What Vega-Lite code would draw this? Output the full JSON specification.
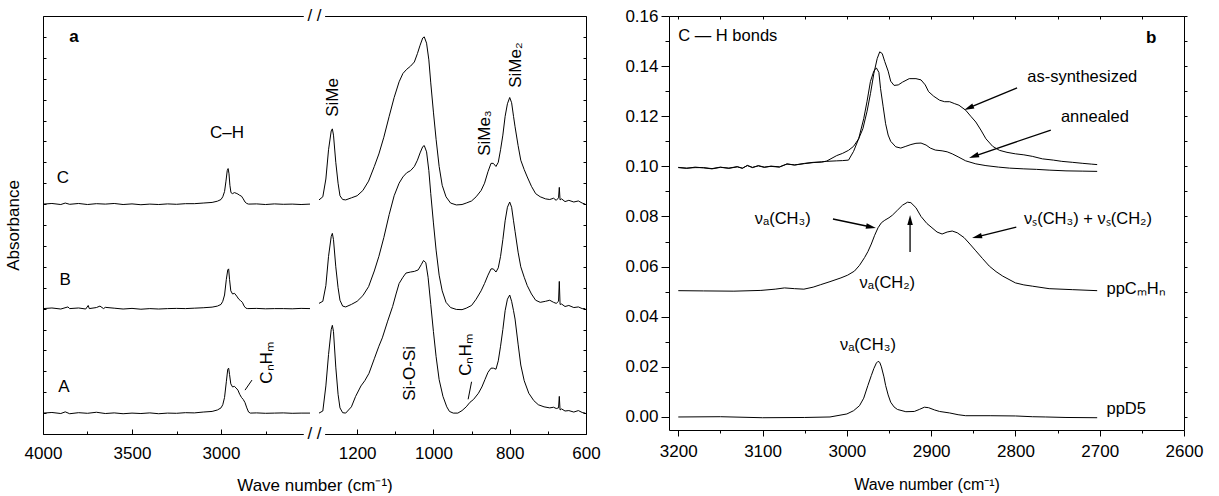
{
"$schema": "https://vega.github.io/schema/vega-lite/v6.json",
"background": "white",
"padding": {"left": 4, "top": 7, "right": 5, "bottom": 0},
"spacing": 83,
"bounds": "flush",
"config": {
 "view": {"stroke": null},
 "font": "Liberation Sans",
 "axis": {"domainColor": "black", "tickColor": "black", "labelColor": "black", "titleColor": "black", "labelFont": "Liberation Sans", "titleFont": "Liberation Sans", "labelFontSize": 17, "titleFontSize": 17, "titleFontWeight": "normal", "grid": false, "domainWidth": 1, "tickWidth": 1, "labelFlush": false, "labelOverlap": false},
 "text": {"font": "Liberation Sans", "fontSize": 17, "color": "black"}
},
"hconcat": [
{
 "width": 543, "height": 418,
 "resolve": {"axis": {"x": "independent", "y": "independent"}},
 "layer": [
  {
   "data": {"values": [
{"g":"A1","x":4000,"y":1.0},{"g":"A1","x":3950,"y":1.03},{"g":"A1","x":3900,"y":0.98},{"g":"A1","x":3875,"y":1.06},{"g":"A1","x":3850,"y":0.97},{"g":"A1","x":3800,"y":1.02},{"g":"A1","x":3750,"y":0.99},{"g":"A1","x":3700,"y":1.04},{"g":"A1","x":3650,"y":0.98},{"g":"A1","x":3600,"y":1.01},{"g":"A1","x":3550,"y":0.97},{"g":"A1","x":3500,"y":1.0},{"g":"A1","x":3450,"y":0.98},{"g":"A1","x":3400,"y":1.01},{"g":"A1","x":3350,"y":0.97},{"g":"A1","x":3300,"y":1.0},{"g":"A1","x":3250,"y":0.99},{"g":"A1","x":3200,"y":1.02},{"g":"A1","x":3150,"y":1.01},{"g":"A1","x":3100,"y":1.05},{"g":"A1","x":3050,"y":1.08},{"g":"A1","x":3020,"y":1.15},{"g":"A1","x":3000,"y":1.25},{"g":"A1","x":2990,"y":1.4},{"g":"A1","x":2980,"y":1.75},{"g":"A1","x":2970,"y":2.5},{"g":"A1","x":2962,"y":3.1},{"g":"A1","x":2957,"y":3.15},{"g":"A1","x":2952,"y":2.85},{"g":"A1","x":2945,"y":2.4},{"g":"A1","x":2935,"y":2.25},{"g":"A1","x":2925,"y":2.28},{"g":"A1","x":2915,"y":2.2},{"g":"A1","x":2905,"y":2.1},{"g":"A1","x":2895,"y":1.9},{"g":"A1","x":2885,"y":1.75},{"g":"A1","x":2875,"y":1.65},{"g":"A1","x":2865,"y":1.5},{"g":"A1","x":2855,"y":1.25},{"g":"A1","x":2845,"y":1.05},{"g":"A1","x":2835,"y":1.0},{"g":"A1","x":2800,"y":1.01},{"g":"A1","x":2750,"y":0.99},{"g":"A1","x":2700,"y":1.0},{"g":"A1","x":2650,"y":1.01},{"g":"A1","x":2600,"y":0.99},{"g":"A1","x":2550,"y":1.0},{"g":"A1","x":2500,"y":1.0},
{"g":"B1","x":4000,"y":6.0},{"g":"B1","x":3950,"y":6.03},{"g":"B1","x":3900,"y":5.98},{"g":"B1","x":3860,"y":6.08},{"g":"B1","x":3850,"y":6.0},{"g":"B1","x":3800,"y":6.03},{"g":"B1","x":3760,"y":5.98},{"g":"B1","x":3746,"y":6.15},{"g":"B1","x":3740,"y":6.0},{"g":"B1","x":3700,"y":6.05},{"g":"B1","x":3680,"y":6.12},{"g":"B1","x":3660,"y":6.0},{"g":"B1","x":3650,"y":6.06},{"g":"B1","x":3600,"y":6.02},{"g":"B1","x":3550,"y":5.98},{"g":"B1","x":3500,"y":6.01},{"g":"B1","x":3450,"y":5.97},{"g":"B1","x":3400,"y":6.0},{"g":"B1","x":3350,"y":5.98},{"g":"B1","x":3300,"y":6.0},{"g":"B1","x":3250,"y":6.01},{"g":"B1","x":3200,"y":6.0},{"g":"B1","x":3150,"y":6.02},{"g":"B1","x":3100,"y":6.04},{"g":"B1","x":3050,"y":6.07},{"g":"B1","x":3020,"y":6.12},{"g":"B1","x":3000,"y":6.2},{"g":"B1","x":2990,"y":6.35},{"g":"B1","x":2980,"y":6.65},{"g":"B1","x":2970,"y":7.4},{"g":"B1","x":2962,"y":7.85},{"g":"B1","x":2957,"y":7.9},{"g":"B1","x":2952,"y":7.4},{"g":"B1","x":2945,"y":6.85},{"g":"B1","x":2935,"y":6.7},{"g":"B1","x":2924,"y":6.73},{"g":"B1","x":2912,"y":6.6},{"g":"B1","x":2900,"y":6.45},{"g":"B1","x":2890,"y":6.38},{"g":"B1","x":2880,"y":6.3},{"g":"B1","x":2870,"y":6.12},{"g":"B1","x":2860,"y":6.02},{"g":"B1","x":2850,"y":6.0},{"g":"B1","x":2800,"y":6.01},{"g":"B1","x":2750,"y":5.99},{"g":"B1","x":2700,"y":6.0},{"g":"B1","x":2650,"y":6.0},{"g":"B1","x":2600,"y":5.99},{"g":"B1","x":2550,"y":6.01},{"g":"B1","x":2500,"y":6.0},
{"g":"C1","x":4000,"y":11.0},{"g":"C1","x":3950,"y":11.03},{"g":"C1","x":3900,"y":10.98},{"g":"C1","x":3875,"y":11.05},{"g":"C1","x":3850,"y":10.99},{"g":"C1","x":3800,"y":11.03},{"g":"C1","x":3750,"y":10.98},{"g":"C1","x":3700,"y":11.02},{"g":"C1","x":3650,"y":11.0},{"g":"C1","x":3600,"y":11.03},{"g":"C1","x":3550,"y":10.98},{"g":"C1","x":3500,"y":11.01},{"g":"C1","x":3450,"y":10.97},{"g":"C1","x":3400,"y":11.0},{"g":"C1","x":3350,"y":10.98},{"g":"C1","x":3300,"y":11.01},{"g":"C1","x":3250,"y":10.99},{"g":"C1","x":3200,"y":11.02},{"g":"C1","x":3150,"y":11.02},{"g":"C1","x":3100,"y":11.05},{"g":"C1","x":3050,"y":11.08},{"g":"C1","x":3020,"y":11.14},{"g":"C1","x":3000,"y":11.22},{"g":"C1","x":2990,"y":11.35},{"g":"C1","x":2980,"y":11.6},{"g":"C1","x":2972,"y":12.1},{"g":"C1","x":2965,"y":12.6},{"g":"C1","x":2960,"y":12.7},{"g":"C1","x":2955,"y":12.45},{"g":"C1","x":2950,"y":11.9},{"g":"C1","x":2944,"y":11.55},{"g":"C1","x":2935,"y":11.5},{"g":"C1","x":2925,"y":11.55},{"g":"C1","x":2915,"y":11.52},{"g":"C1","x":2905,"y":11.48},{"g":"C1","x":2895,"y":11.42},{"g":"C1","x":2885,"y":11.38},{"g":"C1","x":2875,"y":11.25},{"g":"C1","x":2865,"y":11.1},{"g":"C1","x":2855,"y":11.03},{"g":"C1","x":2845,"y":11.0},{"g":"C1","x":2800,"y":11.01},{"g":"C1","x":2750,"y":10.98},{"g":"C1","x":2700,"y":11.01},{"g":"C1","x":2650,"y":10.99},{"g":"C1","x":2600,"y":11.0},{"g":"C1","x":2550,"y":10.98},{"g":"C1","x":2500,"y":11.0},
{"g":"C2","x":1300,"y":11.2},{"g":"C2","x":1290,"y":11.35},{"g":"C2","x":1282,"y":12.2},{"g":"C2","x":1275,"y":13.6},{"g":"C2","x":1268,"y":14.5},{"g":"C2","x":1265,"y":14.6},{"g":"C2","x":1262,"y":14.3},{"g":"C2","x":1256,"y":13.0},{"g":"C2","x":1250,"y":12.0},{"g":"C2","x":1245,"y":11.4},{"g":"C2","x":1238,"y":11.22},{"g":"C2","x":1230,"y":11.2},{"g":"C2","x":1215,"y":11.3},{"g":"C2","x":1200,"y":11.4},{"g":"C2","x":1185,"y":11.65},{"g":"C2","x":1170,"y":12.1},{"g":"C2","x":1155,"y":12.8},{"g":"C2","x":1143,"y":13.4},{"g":"C2","x":1130,"y":14.2},{"g":"C2","x":1116,"y":15.2},{"g":"C2","x":1103,"y":16.1},{"g":"C2","x":1090,"y":16.85},{"g":"C2","x":1080,"y":17.25},{"g":"C2","x":1070,"y":17.45},{"g":"C2","x":1060,"y":17.6},{"g":"C2","x":1050,"y":17.8},{"g":"C2","x":1042,"y":18.2},{"g":"C2","x":1035,"y":18.6},{"g":"C2","x":1028,"y":18.95},{"g":"C2","x":1024,"y":19.0},{"g":"C2","x":1018,"y":18.7},{"g":"C2","x":1012,"y":17.9},{"g":"C2","x":1007,"y":16.8},{"g":"C2","x":1000,"y":15.4},{"g":"C2","x":993,"y":14.1},{"g":"C2","x":985,"y":12.8},{"g":"C2","x":977,"y":11.9},{"g":"C2","x":967,"y":11.35},{"g":"C2","x":955,"y":11.05},{"g":"C2","x":940,"y":10.96},{"g":"C2","x":925,"y":10.98},{"g":"C2","x":914,"y":11.05},{"g":"C2","x":900,"y":11.15},{"g":"C2","x":888,"y":11.35},{"g":"C2","x":875,"y":11.65},{"g":"C2","x":866,"y":12.0},{"g":"C2","x":857,"y":12.55},{"g":"C2","x":849,"y":12.95},{"g":"C2","x":843,"y":12.95},{"g":"C2","x":836,"y":12.8},{"g":"C2","x":830,"y":13.0},{"g":"C2","x":824,"y":13.6},{"g":"C2","x":818,"y":14.3},{"g":"C2","x":812,"y":15.2},{"g":"C2","x":806,"y":15.8},{"g":"C2","x":800,"y":16.1},{"g":"C2","x":795,"y":15.85},{"g":"C2","x":790,"y":15.2},{"g":"C2","x":786,"y":14.7},{"g":"C2","x":778,"y":13.8},{"g":"C2","x":771,"y":13.1},{"g":"C2","x":762,"y":12.65},{"g":"C2","x":754,"y":12.3},{"g":"C2","x":743,"y":11.85},{"g":"C2","x":732,"y":11.5},{"g":"C2","x":720,"y":11.35},{"g":"C2","x":706,"y":11.25},{"g":"C2","x":695,"y":11.22},{"g":"C2","x":685,"y":11.28},{"g":"C2","x":678,"y":11.18},{"g":"C2","x":672,"y":11.3},{"g":"C2","x":670,"y":11.8},{"g":"C2","x":668,"y":11.2},{"g":"C2","x":664,"y":11.25},{"g":"C2","x":655,"y":11.12},{"g":"C2","x":645,"y":11.18},{"g":"C2","x":632,"y":11.1},{"g":"C2","x":620,"y":11.15},{"g":"C2","x":610,"y":11.05},{"g":"C2","x":602,"y":11.0},
{"g":"B2","x":1300,"y":6.25},{"g":"B2","x":1290,"y":6.35},{"g":"B2","x":1282,"y":7.1},{"g":"B2","x":1275,"y":8.5},{"g":"B2","x":1268,"y":9.45},{"g":"B2","x":1265,"y":9.6},{"g":"B2","x":1262,"y":9.3},{"g":"B2","x":1256,"y":8.0},{"g":"B2","x":1250,"y":7.0},{"g":"B2","x":1245,"y":6.4},{"g":"B2","x":1238,"y":6.12},{"g":"B2","x":1230,"y":6.08},{"g":"B2","x":1215,"y":6.2},{"g":"B2","x":1200,"y":6.35},{"g":"B2","x":1185,"y":6.62},{"g":"B2","x":1170,"y":7.05},{"g":"B2","x":1155,"y":7.8},{"g":"B2","x":1143,"y":8.5},{"g":"B2","x":1130,"y":9.4},{"g":"B2","x":1116,"y":10.5},{"g":"B2","x":1103,"y":11.4},{"g":"B2","x":1090,"y":12.0},{"g":"B2","x":1080,"y":12.3},{"g":"B2","x":1070,"y":12.5},{"g":"B2","x":1060,"y":12.6},{"g":"B2","x":1050,"y":12.8},{"g":"B2","x":1042,"y":13.1},{"g":"B2","x":1035,"y":13.45},{"g":"B2","x":1028,"y":13.75},{"g":"B2","x":1024,"y":13.8},{"g":"B2","x":1018,"y":13.5},{"g":"B2","x":1012,"y":12.6},{"g":"B2","x":1007,"y":11.5},{"g":"B2","x":1000,"y":10.1},{"g":"B2","x":993,"y":8.8},{"g":"B2","x":985,"y":7.6},{"g":"B2","x":977,"y":6.85},{"g":"B2","x":967,"y":6.3},{"g":"B2","x":955,"y":6.05},{"g":"B2","x":940,"y":5.96},{"g":"B2","x":925,"y":5.95},{"g":"B2","x":914,"y":6.02},{"g":"B2","x":900,"y":6.15},{"g":"B2","x":888,"y":6.45},{"g":"B2","x":875,"y":6.85},{"g":"B2","x":866,"y":7.2},{"g":"B2","x":857,"y":7.6},{"g":"B2","x":849,"y":7.9},{"g":"B2","x":843,"y":7.9},{"g":"B2","x":836,"y":7.75},{"g":"B2","x":830,"y":7.95},{"g":"B2","x":824,"y":8.5},{"g":"B2","x":818,"y":9.3},{"g":"B2","x":812,"y":10.2},{"g":"B2","x":806,"y":10.85},{"g":"B2","x":800,"y":11.1},{"g":"B2","x":795,"y":10.85},{"g":"B2","x":790,"y":10.2},{"g":"B2","x":786,"y":9.7},{"g":"B2","x":778,"y":8.7},{"g":"B2","x":771,"y":8.0},{"g":"B2","x":762,"y":7.5},{"g":"B2","x":754,"y":7.1},{"g":"B2","x":743,"y":6.7},{"g":"B2","x":732,"y":6.4},{"g":"B2","x":720,"y":6.3},{"g":"B2","x":706,"y":6.35},{"g":"B2","x":695,"y":6.4},{"g":"B2","x":685,"y":6.3},{"g":"B2","x":678,"y":6.25},{"g":"B2","x":672,"y":6.35},{"g":"B2","x":670,"y":7.3},{"g":"B2","x":668,"y":6.2},{"g":"B2","x":664,"y":6.22},{"g":"B2","x":655,"y":6.1},{"g":"B2","x":645,"y":6.15},{"g":"B2","x":632,"y":6.05},{"g":"B2","x":620,"y":6.08},{"g":"B2","x":610,"y":6.0},{"g":"B2","x":602,"y":6.0},
{"g":"A2","x":1300,"y":1.0},{"g":"A2","x":1290,"y":1.1},{"g":"A2","x":1282,"y":2.3},{"g":"A2","x":1275,"y":3.8},{"g":"A2","x":1268,"y":5.0},{"g":"A2","x":1265,"y":5.2},{"g":"A2","x":1262,"y":4.9},{"g":"A2","x":1256,"y":3.2},{"g":"A2","x":1250,"y":1.9},{"g":"A2","x":1245,"y":1.25},{"g":"A2","x":1238,"y":1.02},{"g":"A2","x":1230,"y":1.0},{"g":"A2","x":1215,"y":1.3},{"g":"A2","x":1204,"y":1.8},{"g":"A2","x":1190,"y":2.3},{"g":"A2","x":1180,"y":2.55},{"g":"A2","x":1169,"y":2.9},{"g":"A2","x":1155,"y":3.6},{"g":"A2","x":1143,"y":4.2},{"g":"A2","x":1134,"y":4.6},{"g":"A2","x":1120,"y":5.4},{"g":"A2","x":1107,"y":6.1},{"g":"A2","x":1098,"y":6.7},{"g":"A2","x":1090,"y":7.2},{"g":"A2","x":1080,"y":7.5},{"g":"A2","x":1072,"y":7.7},{"g":"A2","x":1060,"y":7.75},{"g":"A2","x":1050,"y":7.78},{"g":"A2","x":1040,"y":7.85},{"g":"A2","x":1032,"y":8.1},{"g":"A2","x":1026,"y":8.3},{"g":"A2","x":1020,"y":8.2},{"g":"A2","x":1014,"y":7.5},{"g":"A2","x":1007,"y":6.2},{"g":"A2","x":1000,"y":4.9},{"g":"A2","x":993,"y":3.7},{"g":"A2","x":985,"y":2.6},{"g":"A2","x":975,"y":1.8},{"g":"A2","x":965,"y":1.3},{"g":"A2","x":958,"y":1.08},{"g":"A2","x":948,"y":1.0},{"g":"A2","x":936,"y":1.0},{"g":"A2","x":925,"y":1.12},{"g":"A2","x":914,"y":1.3},{"g":"A2","x":904,"y":1.52},{"g":"A2","x":895,"y":1.65},{"g":"A2","x":882,"y":1.95},{"g":"A2","x":873,"y":2.25},{"g":"A2","x":865,"y":2.6},{"g":"A2","x":857,"y":2.95},{"g":"A2","x":849,"y":3.15},{"g":"A2","x":843,"y":3.15},{"g":"A2","x":836,"y":3.1},{"g":"A2","x":830,"y":3.5},{"g":"A2","x":824,"y":4.2},{"g":"A2","x":818,"y":5.0},{"g":"A2","x":812,"y":5.9},{"g":"A2","x":806,"y":6.45},{"g":"A2","x":800,"y":6.65},{"g":"A2","x":795,"y":6.35},{"g":"A2","x":790,"y":5.9},{"g":"A2","x":786,"y":5.5},{"g":"A2","x":778,"y":4.3},{"g":"A2","x":771,"y":3.3},{"g":"A2","x":762,"y":2.55},{"g":"A2","x":750,"y":1.95},{"g":"A2","x":737,"y":1.6},{"g":"A2","x":725,"y":1.4},{"g":"A2","x":710,"y":1.3},{"g":"A2","x":695,"y":1.25},{"g":"A2","x":685,"y":1.28},{"g":"A2","x":678,"y":1.22},{"g":"A2","x":672,"y":1.25},{"g":"A2","x":670,"y":1.8},{"g":"A2","x":668,"y":1.15},{"g":"A2","x":664,"y":1.2},{"g":"A2","x":655,"y":1.1},{"g":"A2","x":645,"y":1.12},{"g":"A2","x":632,"y":1.05},{"g":"A2","x":620,"y":1.12},{"g":"A2","x":610,"y":1.03},{"g":"A2","x":602,"y":1.0}
   ]},
   "mark": {"type": "line", "color": "black", "strokeWidth": 1},
   "encoding": {
    "x": {"field": "x", "type": "quantitative", "scale": {"domain": [4000, 2500, 1300, 600], "range": [0, 267, 276, 543], "nice": false, "zero": false},
      "axis": {"orient": "bottom", "values": [4000, 3750, 3500, 3250, 3000, 2750, 1200, 1100, 1000, 900, 800, 700, 600], "format": "d",
        "labelExpr": "(datum.value % 500 === 0 || (datum.value <= 1300 && datum.value % 200 === 0)) ? datum.label : ''",
        "tickSize": {"condition": {"test": "datum.value % 500 === 0 || (datum.value <= 1300 && datum.value % 200 === 0)", "value": -5}, "value": -3},
        "labelPadding": 16, "title": "Wave number (cm⁻¹)", "titlePadding": 14}},
    "y": {"field": "y", "type": "quantitative", "scale": {"domain": [0, 20], "nice": false, "zero": false},
      "axis": {"orient": "left", "values": [0,1,2,3,4,5,6,7,8,9,10,11,12,13,14,15,16,17,18,19,20], "labels": false, "tickSize": -3, "title": "Absorbance", "titlePadding": 20}},
    "detail": {"field": "g"}
   }
  },
  {
   "data": {"values": [{"x": 2535, "x2": 1284, "y": -0.35, "y2": 0.35}, {"x": 2535, "x2": 1284, "y": 19.65, "y2": 20.35}]},
   "mark": {"type": "rect", "color": "white"},
   "encoding": {
    "x": {"field": "x", "type": "quantitative", "scale": {"domain": [4000, 2500, 1300, 600], "range": [0, 267, 276, 543], "nice": false, "zero": false}, "axis": {"orient": "top", "ticks": false, "labels": false, "title": null}},
    "x2": {"field": "x2"},
    "y": {"field": "y", "type": "quantitative", "scale": {"domain": [0, 20], "nice": false, "zero": false}, "axis": {"orient": "right", "values": [0,1,2,3,4,5,6,7,8,9,10,11,12,13,14,15,16,17,18,19,20], "labels": false, "tickSize": -3, "title": null}},
    "y2": {"field": "y2"}
   }
  },
  {
   "data": {"values": [{"x": 1900, "y": 0}, {"x": 1900, "y": 20}]},
   "mark": {"type": "text", "fontSize": 17, "align": "center", "baseline": "middle"},
   "encoding": {
    "x": {"field": "x", "type": "quantitative", "axis": null},
    "y": {"field": "y", "type": "quantitative", "axis": null},
    "text": {"value": "/ /"}
   }
  },
  {
   "data": {"values": [{"x": 2966, "y": 14.4, "t": "C–H"}, {"x": 3888, "y": 12.25, "t": "C"}, {"x": 3876, "y": 7.37, "t": "B"}, {"x": 3882, "y": 2.25, "t": "A"}]},
   "mark": {"type": "text", "align": "center", "baseline": "middle"},
   "encoding": {
    "x": {"field": "x", "type": "quantitative", "axis": null},
    "y": {"field": "y", "type": "quantitative", "axis": null},
    "text": {"field": "t"}
   }
  },
  {
   "data": {"values": [{"x": 3826, "y": 19.0, "t": "a"}]},
   "mark": {"type": "text", "align": "center", "baseline": "middle", "fontWeight": "bold"},
   "encoding": {
    "x": {"field": "x", "type": "quantitative", "axis": null},
    "y": {"field": "y", "type": "quantitative", "axis": null},
    "text": {"field": "t"}
   }
  },
  {
   "data": {"values": [{"x": 1263, "y": 16.1, "t": "SiMe"}, {"x": 865, "y": 14.4, "t": "SiMe₃"}, {"x": 784, "y": 17.65, "t": "SiMe₂"}, {"x": 1061, "y": 2.9, "t": "Si-O-Si"}, {"x": 915, "y": 3.78, "t": "CₙHₘ"}, {"x": 2742, "y": 3.4, "t": "CₙHₘ"}]},
   "mark": {"type": "text", "align": "center", "baseline": "middle", "angle": 270},
   "encoding": {
    "x": {"field": "x", "type": "quantitative", "axis": null},
    "y": {"field": "y", "type": "quantitative", "axis": null},
    "text": {"field": "t"}
   }
  },
  {
   "data": {"values": [{"x": 2865, "y": 2.1, "x2": 2826, "y2": 2.58}, {"x": 909, "y": 1.66, "x2": 900, "y2": 2.5}]},
   "mark": {"type": "rule", "color": "black", "strokeWidth": 1},
   "encoding": {
    "x": {"field": "x", "type": "quantitative", "axis": null},
    "y": {"field": "y", "type": "quantitative", "axis": null},
    "x2": {"field": "x2"},
    "y2": {"field": "y2"}
   }
  }
 ]
},
{
 "width": 515, "height": 414,
 "resolve": {"axis": {"x": "independent", "y": "independent"}},
 "layer": [
  {
   "data": {"values": [
{"g":"as","x":3200,"y":0.0995},{"g":"as","x":3190,"y":0.0992},{"g":"as","x":3180,"y":0.0997},{"g":"as","x":3170,"y":0.0994},{"g":"as","x":3160,"y":0.099},{"g":"as","x":3150,"y":0.0996},{"g":"as","x":3140,"y":0.0993},{"g":"as","x":3130,"y":0.0999},{"g":"as","x":3124,"y":0.0992},{"g":"as","x":3118,"y":0.1004},{"g":"as","x":3112,"y":0.0995},{"g":"as","x":3105,"y":0.1003},{"g":"as","x":3098,"y":0.0997},{"g":"as","x":3090,"y":0.1},{"g":"as","x":3080,"y":0.0997},{"g":"as","x":3071,"y":0.101},{"g":"as","x":3062,"y":0.1005},{"g":"as","x":3050,"y":0.1012},{"g":"as","x":3040,"y":0.1016},{"g":"as","x":3030,"y":0.1017},{"g":"as","x":3024,"y":0.1021},{"g":"as","x":3012,"y":0.1043},{"g":"as","x":3005,"y":0.1052},{"g":"as","x":2998,"y":0.1064},{"g":"as","x":2992,"y":0.108},{"g":"as","x":2986,"y":0.111},{"g":"as","x":2981,"y":0.115},{"g":"as","x":2976,"y":0.122},{"g":"as","x":2972,"y":0.129},{"g":"as","x":2968,"y":0.137},{"g":"as","x":2964,"y":0.143},{"g":"as","x":2961,"y":0.1457},{"g":"as","x":2958,"y":0.145},{"g":"as","x":2955,"y":0.1418},{"g":"as","x":2951,"y":0.138},{"g":"as","x":2948,"y":0.134},{"g":"as","x":2944,"y":0.1323},{"g":"as","x":2939,"y":0.1325},{"g":"as","x":2934,"y":0.1336},{"g":"as","x":2926,"y":0.135},{"g":"as","x":2918,"y":0.135},{"g":"as","x":2912,"y":0.1345},{"g":"as","x":2907,"y":0.1325},{"g":"as","x":2903,"y":0.1298},{"g":"as","x":2897,"y":0.128},{"g":"as","x":2890,"y":0.1264},{"g":"as","x":2884,"y":0.1258},{"g":"as","x":2878,"y":0.1258},{"g":"as","x":2872,"y":0.125},{"g":"as","x":2867,"y":0.1244},{"g":"as","x":2859,"y":0.1224},{"g":"as","x":2853,"y":0.12},{"g":"as","x":2847,"y":0.1177},{"g":"as","x":2841,"y":0.1145},{"g":"as","x":2835,"y":0.111},{"g":"as","x":2827,"y":0.108},{"g":"as","x":2819,"y":0.1064},{"g":"as","x":2810,"y":0.1056},{"g":"as","x":2800,"y":0.105},{"g":"as","x":2790,"y":0.1046},{"g":"as","x":2780,"y":0.104},{"g":"as","x":2768,"y":0.103},{"g":"as","x":2755,"y":0.1025},{"g":"as","x":2745,"y":0.102},{"g":"as","x":2732,"y":0.1016},{"g":"as","x":2720,"y":0.1012},{"g":"as","x":2710,"y":0.1009},{"g":"as","x":2703,"y":0.1007},
{"g":"an","x":3200,"y":0.0996},{"g":"an","x":3190,"y":0.0993},{"g":"an","x":3180,"y":0.0995},{"g":"an","x":3170,"y":0.0995},{"g":"an","x":3160,"y":0.0991},{"g":"an","x":3150,"y":0.0997},{"g":"an","x":3140,"y":0.0992},{"g":"an","x":3130,"y":0.0998},{"g":"an","x":3124,"y":0.0993},{"g":"an","x":3118,"y":0.1003},{"g":"an","x":3112,"y":0.0996},{"g":"an","x":3105,"y":0.1002},{"g":"an","x":3098,"y":0.0996},{"g":"an","x":3090,"y":0.1001},{"g":"an","x":3080,"y":0.0998},{"g":"an","x":3071,"y":0.1009},{"g":"an","x":3062,"y":0.1006},{"g":"an","x":3050,"y":0.1011},{"g":"an","x":3040,"y":0.1015},{"g":"an","x":3030,"y":0.1018},{"g":"an","x":3024,"y":0.102},{"g":"an","x":3012,"y":0.1022},{"g":"an","x":3005,"y":0.1023},{"g":"an","x":2998,"y":0.1025},{"g":"an","x":2992,"y":0.106},{"g":"an","x":2986,"y":0.111},{"g":"an","x":2980,"y":0.119},{"g":"an","x":2976,"y":0.126},{"g":"an","x":2972,"y":0.1339},{"g":"an","x":2968,"y":0.138},{"g":"an","x":2965,"y":0.1393},{"g":"an","x":2962,"y":0.1375},{"g":"an","x":2960,"y":0.131},{"g":"an","x":2957,"y":0.124},{"g":"an","x":2954,"y":0.117},{"g":"an","x":2951,"y":0.1125},{"g":"an","x":2948,"y":0.11},{"g":"an","x":2942,"y":0.1078},{"g":"an","x":2936,"y":0.1073},{"g":"an","x":2930,"y":0.108},{"g":"an","x":2924,"y":0.1087},{"g":"an","x":2918,"y":0.1092},{"g":"an","x":2912,"y":0.1093},{"g":"an","x":2906,"y":0.1085},{"g":"an","x":2901,"y":0.1073},{"g":"an","x":2895,"y":0.1065},{"g":"an","x":2887,"y":0.1062},{"g":"an","x":2881,"y":0.1058},{"g":"an","x":2875,"y":0.105},{"g":"an","x":2868,"y":0.1038},{"g":"an","x":2859,"y":0.1022},{"g":"an","x":2847,"y":0.101},{"g":"an","x":2835,"y":0.1003},{"g":"an","x":2820,"y":0.0997},{"g":"an","x":2807,"y":0.0993},{"g":"an","x":2790,"y":0.099},{"g":"an","x":2775,"y":0.0988},{"g":"an","x":2760,"y":0.0985},{"g":"an","x":2740,"y":0.0982},{"g":"an","x":2720,"y":0.0981},{"g":"an","x":2703,"y":0.098},
{"g":"cm","x":3200,"y":0.0504},{"g":"cm","x":3170,"y":0.0503},{"g":"cm","x":3134,"y":0.0502},{"g":"cm","x":3102,"y":0.0505},{"g":"cm","x":3085,"y":0.051},{"g":"cm","x":3074,"y":0.0515},{"g":"cm","x":3062,"y":0.0512},{"g":"cm","x":3051,"y":0.051},{"g":"cm","x":3040,"y":0.0518},{"g":"cm","x":3031,"y":0.0528},{"g":"cm","x":3020,"y":0.054},{"g":"cm","x":3007,"y":0.0555},{"g":"cm","x":2999,"y":0.0566},{"g":"cm","x":2991,"y":0.0582},{"g":"cm","x":2985,"y":0.0605},{"g":"cm","x":2979,"y":0.0636},{"g":"cm","x":2975,"y":0.066},{"g":"cm","x":2971,"y":0.069},{"g":"cm","x":2967,"y":0.0725},{"g":"cm","x":2963,"y":0.0755},{"g":"cm","x":2959,"y":0.0775},{"g":"cm","x":2955,"y":0.0785},{"g":"cm","x":2950,"y":0.0795},{"g":"cm","x":2946,"y":0.0805},{"g":"cm","x":2940,"y":0.0825},{"g":"cm","x":2934,"y":0.0845},{"g":"cm","x":2928,"y":0.0857},{"g":"cm","x":2924,"y":0.0855},{"g":"cm","x":2918,"y":0.0835},{"g":"cm","x":2912,"y":0.08},{"g":"cm","x":2905,"y":0.0772},{"g":"cm","x":2899,"y":0.0755},{"g":"cm","x":2893,"y":0.0738},{"g":"cm","x":2887,"y":0.073},{"g":"cm","x":2881,"y":0.0738},{"g":"cm","x":2875,"y":0.0742},{"g":"cm","x":2869,"y":0.0735},{"g":"cm","x":2861,"y":0.0716},{"g":"cm","x":2854,"y":0.069},{"g":"cm","x":2847,"y":0.0663},{"g":"cm","x":2839,"y":0.0632},{"g":"cm","x":2831,"y":0.0602},{"g":"cm","x":2823,"y":0.058},{"g":"cm","x":2815,"y":0.0562},{"g":"cm","x":2800,"y":0.0535},{"g":"cm","x":2790,"y":0.0527},{"g":"cm","x":2780,"y":0.0522},{"g":"cm","x":2760,"y":0.0512},{"g":"cm","x":2732,"y":0.0508},{"g":"cm","x":2703,"y":0.0504},
{"g":"d5","x":3200,"y":0.0},{"g":"d5","x":3150,"y":0.0001},{"g":"d5","x":3100,"y":-0.0003},{"g":"d5","x":3050,"y":-0.0002},{"g":"d5","x":3020,"y":0.0},{"g":"d5","x":3000,"y":0.0012},{"g":"d5","x":2992,"y":0.0025},{"g":"d5","x":2985,"y":0.0045},{"g":"d5","x":2980,"y":0.0075},{"g":"d5","x":2975,"y":0.0126},{"g":"d5","x":2971,"y":0.0165},{"g":"d5","x":2968,"y":0.0193},{"g":"d5","x":2965,"y":0.0215},{"g":"d5","x":2963,"y":0.0222},{"g":"d5","x":2961,"y":0.0218},{"g":"d5","x":2959,"y":0.02},{"g":"d5","x":2956,"y":0.016},{"g":"d5","x":2954,"y":0.0126},{"g":"d5","x":2951,"y":0.0088},{"g":"d5","x":2948,"y":0.0059},{"g":"d5","x":2944,"y":0.004},{"g":"d5","x":2940,"y":0.003},{"g":"d5","x":2930,"y":0.0021},{"g":"d5","x":2920,"y":0.0022},{"g":"d5","x":2914,"y":0.003},{"g":"d5","x":2908,"y":0.0039},{"g":"d5","x":2903,"y":0.0037},{"g":"d5","x":2896,"y":0.0028},{"g":"d5","x":2890,"y":0.0022},{"g":"d5","x":2878,"y":0.0016},{"g":"d5","x":2868,"y":0.0009},{"g":"d5","x":2859,"y":0.0005},{"g":"d5","x":2830,"y":0.0005},{"g":"d5","x":2800,"y":0.0004},{"g":"d5","x":2780,"y":0.0001},{"g":"d5","x":2764,"y":0.0},{"g":"d5","x":2740,"y":-0.0002},{"g":"d5","x":2703,"y":-0.0003}
   ]},
   "mark": {"type": "line", "color": "black", "strokeWidth": 1},
   "encoding": {
    "x": {"field": "x", "type": "quantitative", "scale": {"domain": [2600, 3211], "reverse": true, "nice": false, "zero": false},
      "axis": {"orient": "bottom", "values": [3200, 3150, 3100, 3050, 3000, 2950, 2900, 2850, 2800, 2750, 2700, 2650, 2600], "format": "d",
        "labelExpr": "datum.value % 100 === 0 ? datum.label : ''",
        "tickSize": {"condition": {"test": "datum.value % 100 === 0", "value": 6}, "value": 3},
        "labelPadding": 7, "title": "Wave number (cm⁻¹)", "titleFontSize": 16, "titlePadding": 17}},
    "y": {"field": "y", "type": "quantitative", "scale": {"domain": [-0.0052, 0.16], "nice": false, "zero": false},
      "axis": {"orient": "left", "values": [0, 0.01, 0.02, 0.03, 0.04, 0.05, 0.06, 0.07, 0.08, 0.09, 0.1, 0.11, 0.12, 0.13, 0.14, 0.15, 0.16],
        "labelExpr": "round(datum.value * 100) % 2 === 0 ? format(datum.value, '.2f') : ''",
        "tickSize": {"condition": {"test": "round(datum.value * 100) % 2 === 0", "value": 8}, "value": 4},
        "labelPadding": 3, "title": null}},
    "detail": {"field": "g"}
   }
  },
  {
   "data": {"values": [{"x": 2798, "y": 0.1313, "x2": 2855.4, "y2": 0.1233}, {"x": 2758, "y": 0.1145, "x2": 2849.4, "y2": 0.104}, {"x": 3016.5, "y": 0.079, "x2": 2971.3, "y2": 0.0758}, {"x": 2799, "y": 0.0758, "x2": 2845.7, "y2": 0.0719}, {"x": 2925, "y": 0.0658, "x2": 2925, "y2": 0.0786}]},
   "mark": {"type": "rule", "color": "black", "strokeWidth": 1.3},
   "encoding": {
    "x": {"field": "x", "type": "quantitative", "scale": {"domain": [2600, 3211], "reverse": true, "nice": false, "zero": false},
      "axis": {"orient": "top", "values": [3200, 3150, 3100, 3050, 3000, 2950, 2900, 2850, 2800, 2750, 2700, 2650, 2600], "labels": false, "tickSize": -3, "title": null}},
    "y": {"field": "y", "type": "quantitative", "scale": {"domain": [-0.0052, 0.16], "nice": false, "zero": false},
      "axis": {"orient": "right", "values": [0, 0.01, 0.02, 0.03, 0.04, 0.05, 0.06, 0.07, 0.08, 0.09, 0.1, 0.11, 0.12, 0.13, 0.14, 0.15, 0.16], "labels": false, "tickSize": 3, "title": null}},
    "x2": {"field": "x2"},
    "y2": {"field": "y2"}
   }
  },
  {"data": {"values": [{"x": 2855.4, "y": 0.1233}]}, "mark": {"type": "point", "shape": "M0,-1L0.55,1L-0.55,1Z", "filled": true, "color": "black", "size": 100, "opacity": 1, "angle": 247.5}, "encoding": {"x": {"field": "x", "type": "quantitative", "axis": null}, "y": {"field": "y", "type": "quantitative", "axis": null}}},
  {"data": {"values": [{"x": 2849.4, "y": 0.104}]}, "mark": {"type": "point", "shape": "M0,-1L0.55,1L-0.55,1Z", "filled": true, "color": "black", "size": 100, "opacity": 1, "angle": 251}, "encoding": {"x": {"field": "x", "type": "quantitative", "axis": null}, "y": {"field": "y", "type": "quantitative", "axis": null}}},
  {"data": {"values": [{"x": 2971.3, "y": 0.0758}]}, "mark": {"type": "point", "shape": "M0,-1L0.55,1L-0.55,1Z", "filled": true, "color": "black", "size": 100, "opacity": 1, "angle": 102}, "encoding": {"x": {"field": "x", "type": "quantitative", "axis": null}, "y": {"field": "y", "type": "quantitative", "axis": null}}},
  {"data": {"values": [{"x": 2845.7, "y": 0.0719}]}, "mark": {"type": "point", "shape": "M0,-1L0.55,1L-0.55,1Z", "filled": true, "color": "black", "size": 100, "opacity": 1, "angle": 256}, "encoding": {"x": {"field": "x", "type": "quantitative", "axis": null}, "y": {"field": "y", "type": "quantitative", "axis": null}}},
  {"data": {"values": [{"x": 2925, "y": 0.0786}]}, "mark": {"type": "point", "shape": "M0,-1L0.55,1L-0.55,1Z", "filled": true, "color": "black", "size": 100, "opacity": 1, "angle": 0}, "encoding": {"x": {"field": "x", "type": "quantitative", "axis": null}, "y": {"field": "y", "type": "quantitative", "axis": null}}},
  {
   "data": {"values": [{"x": 3200, "y": 0.152, "t": "C — H bonds"}, {"x": 2786, "y": 0.1357, "t": "as-synthesized"}, {"x": 2746, "y": 0.1197, "t": "annealed"}, {"x": 2692, "y": 0.0511, "t": "ppCₘHₙ"}, {"x": 2692, "y": 0.0032, "t": "ppD5"}]},
   "mark": {"type": "text", "align": "left", "baseline": "middle", "fontSize": 16.5},
   "encoding": {
    "x": {"field": "x", "type": "quantitative", "axis": null},
    "y": {"field": "y", "type": "quantitative", "axis": null},
    "text": {"field": "t"}
   }
  },
  {
   "data": {"values": [{"x": 3076, "y": 0.079, "t": "νₐ(CH₃)"}, {"x": 2952, "y": 0.0535, "t": "νₐ(CH₂)"}, {"x": 2975, "y": 0.0287, "t": "νₐ(CH₃)"}, {"x": 2714, "y": 0.079, "t": "νₛ(CH₃) + νₛ(CH₂)"}]},
   "mark": {"type": "text", "align": "center", "baseline": "middle", "fontSize": 16.5},
   "encoding": {
    "x": {"field": "x", "type": "quantitative", "axis": null},
    "y": {"field": "y", "type": "quantitative", "axis": null},
    "text": {"field": "t"}
   }
  },
  {
   "data": {"values": [{"x": 2639, "y": 0.1512, "t": "b"}]},
   "mark": {"type": "text", "align": "center", "baseline": "middle", "fontWeight": "bold"},
   "encoding": {
    "x": {"field": "x", "type": "quantitative", "axis": null},
    "y": {"field": "y", "type": "quantitative", "axis": null},
    "text": {"field": "t"}
   }
  }
 ]
}
]
}
